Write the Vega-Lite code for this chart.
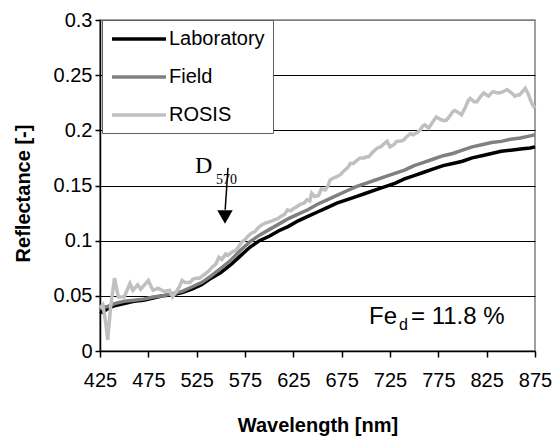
{
  "$schema": "https://vega.github.io/schema/vega-lite/v6.json",
  "width": 435,
  "height": 331,
  "autosize": {"type": "none"},
  "padding": {"left": 100, "top": 20, "right": 21, "bottom": 90},
  "background": "white",
  "config": {
    "font": "Liberation Sans",
    "view": {"stroke": "#808080", "strokeWidth": 1.5}
  },
  "datasets": {
    "spectra": [
      {"series": "Laboratory", "wl": 425, "r": 0.036},
      {"series": "Laboratory", "wl": 428, "r": 0.035},
      {"series": "Laboratory", "wl": 432, "r": 0.038},
      {"series": "Laboratory", "wl": 440, "r": 0.041},
      {"series": "Laboratory", "wl": 450, "r": 0.043},
      {"series": "Laboratory", "wl": 460, "r": 0.045},
      {"series": "Laboratory", "wl": 470, "r": 0.046},
      {"series": "Laboratory", "wl": 480, "r": 0.048},
      {"series": "Laboratory", "wl": 490, "r": 0.050},
      {"series": "Laboratory", "wl": 500, "r": 0.051},
      {"series": "Laboratory", "wl": 510, "r": 0.053},
      {"series": "Laboratory", "wl": 520, "r": 0.056},
      {"series": "Laboratory", "wl": 530, "r": 0.060},
      {"series": "Laboratory", "wl": 540, "r": 0.066},
      {"series": "Laboratory", "wl": 550, "r": 0.071},
      {"series": "Laboratory", "wl": 560, "r": 0.078},
      {"series": "Laboratory", "wl": 570, "r": 0.086},
      {"series": "Laboratory", "wl": 580, "r": 0.094},
      {"series": "Laboratory", "wl": 590, "r": 0.100},
      {"series": "Laboratory", "wl": 600, "r": 0.104},
      {"series": "Laboratory", "wl": 610, "r": 0.109},
      {"series": "Laboratory", "wl": 620, "r": 0.113},
      {"series": "Laboratory", "wl": 630, "r": 0.118},
      {"series": "Laboratory", "wl": 640, "r": 0.122},
      {"series": "Laboratory", "wl": 650, "r": 0.126},
      {"series": "Laboratory", "wl": 660, "r": 0.130},
      {"series": "Laboratory", "wl": 670, "r": 0.134},
      {"series": "Laboratory", "wl": 680, "r": 0.137},
      {"series": "Laboratory", "wl": 690, "r": 0.140},
      {"series": "Laboratory", "wl": 700, "r": 0.143},
      {"series": "Laboratory", "wl": 710, "r": 0.146},
      {"series": "Laboratory", "wl": 720, "r": 0.149},
      {"series": "Laboratory", "wl": 730, "r": 0.152},
      {"series": "Laboratory", "wl": 740, "r": 0.156},
      {"series": "Laboratory", "wl": 750, "r": 0.159},
      {"series": "Laboratory", "wl": 760, "r": 0.162},
      {"series": "Laboratory", "wl": 770, "r": 0.165},
      {"series": "Laboratory", "wl": 780, "r": 0.168},
      {"series": "Laboratory", "wl": 790, "r": 0.170},
      {"series": "Laboratory", "wl": 800, "r": 0.172},
      {"series": "Laboratory", "wl": 810, "r": 0.175},
      {"series": "Laboratory", "wl": 820, "r": 0.177},
      {"series": "Laboratory", "wl": 830, "r": 0.179},
      {"series": "Laboratory", "wl": 840, "r": 0.181},
      {"series": "Laboratory", "wl": 850, "r": 0.182},
      {"series": "Laboratory", "wl": 860, "r": 0.183},
      {"series": "Laboratory", "wl": 870, "r": 0.184},
      {"series": "Laboratory", "wl": 875, "r": 0.185},
      {"series": "Field", "wl": 425, "r": 0.038},
      {"series": "Field", "wl": 428, "r": 0.040},
      {"series": "Field", "wl": 432, "r": 0.040},
      {"series": "Field", "wl": 440, "r": 0.043},
      {"series": "Field", "wl": 450, "r": 0.045},
      {"series": "Field", "wl": 460, "r": 0.046},
      {"series": "Field", "wl": 470, "r": 0.047},
      {"series": "Field", "wl": 480, "r": 0.049},
      {"series": "Field", "wl": 490, "r": 0.050},
      {"series": "Field", "wl": 500, "r": 0.052},
      {"series": "Field", "wl": 510, "r": 0.054},
      {"series": "Field", "wl": 520, "r": 0.058},
      {"series": "Field", "wl": 530, "r": 0.062},
      {"series": "Field", "wl": 540, "r": 0.068},
      {"series": "Field", "wl": 550, "r": 0.075},
      {"series": "Field", "wl": 560, "r": 0.082},
      {"series": "Field", "wl": 570, "r": 0.091},
      {"series": "Field", "wl": 580, "r": 0.099},
      {"series": "Field", "wl": 590, "r": 0.105},
      {"series": "Field", "wl": 600, "r": 0.110},
      {"series": "Field", "wl": 610, "r": 0.115},
      {"series": "Field", "wl": 620, "r": 0.120},
      {"series": "Field", "wl": 630, "r": 0.124},
      {"series": "Field", "wl": 640, "r": 0.128},
      {"series": "Field", "wl": 650, "r": 0.133},
      {"series": "Field", "wl": 660, "r": 0.137},
      {"series": "Field", "wl": 670, "r": 0.141},
      {"series": "Field", "wl": 680, "r": 0.145},
      {"series": "Field", "wl": 690, "r": 0.149},
      {"series": "Field", "wl": 700, "r": 0.152},
      {"series": "Field", "wl": 710, "r": 0.155},
      {"series": "Field", "wl": 720, "r": 0.158},
      {"series": "Field", "wl": 730, "r": 0.161},
      {"series": "Field", "wl": 740, "r": 0.164},
      {"series": "Field", "wl": 750, "r": 0.168},
      {"series": "Field", "wl": 760, "r": 0.171},
      {"series": "Field", "wl": 770, "r": 0.174},
      {"series": "Field", "wl": 780, "r": 0.177},
      {"series": "Field", "wl": 790, "r": 0.179},
      {"series": "Field", "wl": 800, "r": 0.182},
      {"series": "Field", "wl": 810, "r": 0.185},
      {"series": "Field", "wl": 820, "r": 0.187},
      {"series": "Field", "wl": 830, "r": 0.189},
      {"series": "Field", "wl": 840, "r": 0.190},
      {"series": "Field", "wl": 850, "r": 0.192},
      {"series": "Field", "wl": 860, "r": 0.193},
      {"series": "Field", "wl": 870, "r": 0.195},
      {"series": "Field", "wl": 875, "r": 0.196},
      {"series": "ROSIS", "wl": 425, "r": 0.039},
      {"series": "ROSIS", "wl": 428, "r": 0.042},
      {"series": "ROSIS", "wl": 431, "r": 0.025},
      {"series": "ROSIS", "wl": 433, "r": 0.010},
      {"series": "ROSIS", "wl": 436, "r": 0.040},
      {"series": "ROSIS", "wl": 440, "r": 0.066},
      {"series": "ROSIS", "wl": 444, "r": 0.049},
      {"series": "ROSIS", "wl": 450, "r": 0.049},
      {"series": "ROSIS", "wl": 453, "r": 0.055},
      {"series": "ROSIS", "wl": 456, "r": 0.061},
      {"series": "ROSIS", "wl": 459, "r": 0.055},
      {"series": "ROSIS", "wl": 462, "r": 0.058},
      {"series": "ROSIS", "wl": 464, "r": 0.060},
      {"series": "ROSIS", "wl": 467, "r": 0.056},
      {"series": "ROSIS", "wl": 471, "r": 0.060},
      {"series": "ROSIS", "wl": 475, "r": 0.064},
      {"series": "ROSIS", "wl": 478, "r": 0.058},
      {"series": "ROSIS", "wl": 480, "r": 0.055},
      {"series": "ROSIS", "wl": 485, "r": 0.057},
      {"series": "ROSIS", "wl": 489, "r": 0.055},
      {"series": "ROSIS", "wl": 492, "r": 0.054},
      {"series": "ROSIS", "wl": 497, "r": 0.055},
      {"series": "ROSIS", "wl": 500, "r": 0.049},
      {"series": "ROSIS", "wl": 504, "r": 0.054},
      {"series": "ROSIS", "wl": 507, "r": 0.058},
      {"series": "ROSIS", "wl": 510, "r": 0.064},
      {"series": "ROSIS", "wl": 513, "r": 0.062},
      {"series": "ROSIS", "wl": 518, "r": 0.062},
      {"series": "ROSIS", "wl": 521, "r": 0.065},
      {"series": "ROSIS", "wl": 524, "r": 0.066},
      {"series": "ROSIS", "wl": 528, "r": 0.066},
      {"series": "ROSIS", "wl": 531, "r": 0.068},
      {"series": "ROSIS", "wl": 534, "r": 0.070},
      {"series": "ROSIS", "wl": 538, "r": 0.073},
      {"series": "ROSIS", "wl": 541, "r": 0.076},
      {"series": "ROSIS", "wl": 545, "r": 0.079},
      {"series": "ROSIS", "wl": 548, "r": 0.085},
      {"series": "ROSIS", "wl": 551, "r": 0.083},
      {"series": "ROSIS", "wl": 555, "r": 0.088},
      {"series": "ROSIS", "wl": 558, "r": 0.087},
      {"series": "ROSIS", "wl": 562, "r": 0.090},
      {"series": "ROSIS", "wl": 565, "r": 0.091},
      {"series": "ROSIS", "wl": 568, "r": 0.094},
      {"series": "ROSIS", "wl": 572, "r": 0.099},
      {"series": "ROSIS", "wl": 575, "r": 0.101},
      {"series": "ROSIS", "wl": 578, "r": 0.104},
      {"series": "ROSIS", "wl": 582, "r": 0.107},
      {"series": "ROSIS", "wl": 585, "r": 0.108},
      {"series": "ROSIS", "wl": 589, "r": 0.112},
      {"series": "ROSIS", "wl": 592, "r": 0.114},
      {"series": "ROSIS", "wl": 596, "r": 0.116},
      {"series": "ROSIS", "wl": 600, "r": 0.117},
      {"series": "ROSIS", "wl": 603, "r": 0.118},
      {"series": "ROSIS", "wl": 606, "r": 0.119},
      {"series": "ROSIS", "wl": 609, "r": 0.120},
      {"series": "ROSIS", "wl": 612, "r": 0.122},
      {"series": "ROSIS", "wl": 616, "r": 0.124},
      {"series": "ROSIS", "wl": 619, "r": 0.128},
      {"series": "ROSIS", "wl": 622, "r": 0.127},
      {"series": "ROSIS", "wl": 625, "r": 0.129},
      {"series": "ROSIS", "wl": 629, "r": 0.131},
      {"series": "ROSIS", "wl": 632, "r": 0.133},
      {"series": "ROSIS", "wl": 636, "r": 0.134},
      {"series": "ROSIS", "wl": 639, "r": 0.137},
      {"series": "ROSIS", "wl": 642, "r": 0.136},
      {"series": "ROSIS", "wl": 644, "r": 0.143},
      {"series": "ROSIS", "wl": 647, "r": 0.140},
      {"series": "ROSIS", "wl": 651, "r": 0.141},
      {"series": "ROSIS", "wl": 654, "r": 0.147},
      {"series": "ROSIS", "wl": 658, "r": 0.146},
      {"series": "ROSIS", "wl": 661, "r": 0.150},
      {"series": "ROSIS", "wl": 663, "r": 0.155},
      {"series": "ROSIS", "wl": 667, "r": 0.157},
      {"series": "ROSIS", "wl": 670, "r": 0.158},
      {"series": "ROSIS", "wl": 674, "r": 0.160},
      {"series": "ROSIS", "wl": 677, "r": 0.163},
      {"series": "ROSIS", "wl": 681, "r": 0.166},
      {"series": "ROSIS", "wl": 684, "r": 0.170},
      {"series": "ROSIS", "wl": 687, "r": 0.170},
      {"series": "ROSIS", "wl": 691, "r": 0.173},
      {"series": "ROSIS", "wl": 694, "r": 0.175},
      {"series": "ROSIS", "wl": 698, "r": 0.175},
      {"series": "ROSIS", "wl": 701, "r": 0.176},
      {"series": "ROSIS", "wl": 703, "r": 0.176},
      {"series": "ROSIS", "wl": 706, "r": 0.179},
      {"series": "ROSIS", "wl": 708, "r": 0.181},
      {"series": "ROSIS", "wl": 712, "r": 0.184},
      {"series": "ROSIS", "wl": 715, "r": 0.185},
      {"series": "ROSIS", "wl": 718, "r": 0.187},
      {"series": "ROSIS", "wl": 722, "r": 0.190},
      {"series": "ROSIS", "wl": 725, "r": 0.185},
      {"series": "ROSIS", "wl": 729, "r": 0.187},
      {"series": "ROSIS", "wl": 732, "r": 0.190},
      {"series": "ROSIS", "wl": 735, "r": 0.190},
      {"series": "ROSIS", "wl": 739, "r": 0.191},
      {"series": "ROSIS", "wl": 742, "r": 0.194},
      {"series": "ROSIS", "wl": 746, "r": 0.197},
      {"series": "ROSIS", "wl": 749, "r": 0.196},
      {"series": "ROSIS", "wl": 753, "r": 0.198},
      {"series": "ROSIS", "wl": 756, "r": 0.200},
      {"series": "ROSIS", "wl": 759, "r": 0.204},
      {"series": "ROSIS", "wl": 761, "r": 0.205},
      {"series": "ROSIS", "wl": 765, "r": 0.202},
      {"series": "ROSIS", "wl": 768, "r": 0.206},
      {"series": "ROSIS", "wl": 771, "r": 0.210},
      {"series": "ROSIS", "wl": 773, "r": 0.212},
      {"series": "ROSIS", "wl": 777, "r": 0.210},
      {"series": "ROSIS", "wl": 780, "r": 0.209},
      {"series": "ROSIS", "wl": 783, "r": 0.209},
      {"series": "ROSIS", "wl": 787, "r": 0.213},
      {"series": "ROSIS", "wl": 790, "r": 0.217},
      {"series": "ROSIS", "wl": 792, "r": 0.218},
      {"series": "ROSIS", "wl": 796, "r": 0.216},
      {"series": "ROSIS", "wl": 799, "r": 0.214},
      {"series": "ROSIS", "wl": 803, "r": 0.221},
      {"series": "ROSIS", "wl": 806, "r": 0.227},
      {"series": "ROSIS", "wl": 808, "r": 0.229},
      {"series": "ROSIS", "wl": 812, "r": 0.226},
      {"series": "ROSIS", "wl": 815, "r": 0.226},
      {"series": "ROSIS", "wl": 818, "r": 0.230},
      {"series": "ROSIS", "wl": 822, "r": 0.234},
      {"series": "ROSIS", "wl": 825, "r": 0.232},
      {"series": "ROSIS", "wl": 827, "r": 0.231},
      {"series": "ROSIS", "wl": 830, "r": 0.234},
      {"series": "ROSIS", "wl": 832, "r": 0.235},
      {"series": "ROSIS", "wl": 836, "r": 0.234},
      {"series": "ROSIS", "wl": 839, "r": 0.234},
      {"series": "ROSIS", "wl": 842, "r": 0.235},
      {"series": "ROSIS", "wl": 846, "r": 0.237},
      {"series": "ROSIS", "wl": 849, "r": 0.235},
      {"series": "ROSIS", "wl": 852, "r": 0.233},
      {"series": "ROSIS", "wl": 854, "r": 0.231},
      {"series": "ROSIS", "wl": 857, "r": 0.232},
      {"series": "ROSIS", "wl": 859, "r": 0.232},
      {"series": "ROSIS", "wl": 862, "r": 0.235},
      {"series": "ROSIS", "wl": 865, "r": 0.238},
      {"series": "ROSIS", "wl": 868, "r": 0.233},
      {"series": "ROSIS", "wl": 870, "r": 0.228},
      {"series": "ROSIS", "wl": 872, "r": 0.224},
      {"series": "ROSIS", "wl": 875, "r": 0.220}
    ]
  },
  "encoding": {
    "x": {
      "field": "wl", "type": "quantitative",
      "scale": {"domain": [425, 875], "nice": false, "zero": false},
      "axis": {
        "title": "Wavelength [nm]",
        "values": [425, 475, 525, 575, 625, 675, 725, 775, 825, 875],
        "format": "d",
        "grid": false,
        "labelOverlap": false, "labelFlush": false, "labelBound": false,
        "domainColor": "#000000", "domainWidth": 1.5,
        "tickColor": "#000000", "tickSize": 6, "tickWidth": 1.5,
        "labelFontSize": 20, "labelColor": "#000000", "labelPadding": 13,
        "labelFont": "Liberation Sans",
        "titleFont": "Liberation Sans", "titleFontSize": 20, "titleFontWeight": "bold",
        "titleColor": "#000000", "titleY": 80, "titleBaseline": "alphabetic"
      }
    },
    "y": {
      "field": "r", "type": "quantitative",
      "scale": {"domain": [0, 0.3], "nice": false},
      "axis": {
        "title": "Reflectance [-]",
        "values": [0, 0.05, 0.1, 0.15, 0.2, 0.25, 0.3],
        "format": "~g",
        "grid": true,
        "labelOverlap": false, "labelFlush": false, "labelBound": false,
        "gridColor": {"condition": {"test": "datum.value >= 0.29", "value": "#808080"}, "value": "#000000"},
        "gridWidth": 1,
        "domainColor": "#000000", "domainWidth": 1.5,
        "tickColor": "#000000", "tickSize": 5, "tickWidth": 1.5,
        "labelFontSize": 20, "labelColor": "#000000", "labelPadding": 3,
        "labelFont": "Liberation Sans",
        "titleFont": "Liberation Sans", "titleFontSize": 20, "titleFontWeight": "bold",
        "titleColor": "#000000", "titleX": -71, "titleY": 173,
        "titleBaseline": "alphabetic", "titleAngle": -90, "titleAlign": "center"
      }
    },
    "color": {
      "field": "series", "type": "nominal",
      "scale": {"domain": ["Laboratory", "Field", "ROSIS"], "range": ["#000000", "#808080", "#c0c0c0"]},
      "legend": {
        "title": null,
        "orient": "none", "legendX": 2, "legendY": 0,
        "symbolType": "M-1,0H5", "symbolSize": 324, "symbolStrokeWidth": 3.5,
        "labelFontSize": 20, "labelFont": "Liberation Sans", "labelColor": "#000000",
        "labelOffset": 37, "padding": 8, "rowPadding": 17,
        "strokeColor": "#606060", "fillColor": "#ffffff"
      }
    }
  },
  "layer": [
    {
      "data": {"name": "spectra"},
      "transform": [{"filter": "datum.series === 'Laboratory'"}],
      "mark": {"type": "line", "strokeWidth": 3.5}
    },
    {
      "data": {"name": "spectra"},
      "transform": [{"filter": "datum.series === 'Field'"}],
      "mark": {"type": "line", "strokeWidth": 3.5}
    },
    {
      "data": {"name": "spectra"},
      "transform": [{"filter": "datum.series === 'ROSIS'"}],
      "mark": {"type": "line", "strokeWidth": 3.5}
    },
    {
      "data": {"values": [{"wl": 557.4, "r": 0.166, "wl2": 554.5, "r2": 0.128}]},
      "mark": {"type": "rule", "color": "#000000", "strokeWidth": 1.5},
      "encoding": {
        "x2": {"field": "wl2"},
        "y2": {"field": "r2"},
        "color": {"value": "#000000"}
      }
    },
    {
      "data": {"values": [{"wl": 554.3, "r": 0.1215}]},
      "mark": {"type": "point", "shape": "triangle-down", "filled": true, "size": 240, "opacity": 1},
      "encoding": {"color": {"value": "#000000"}}
    },
    {
      "data": {"values": [{"wl": 523.3, "r": 0.161, "t": "D"}]},
      "mark": {"type": "text", "font": "Liberation Serif", "fontSize": 24, "align": "left", "baseline": "alphabetic"},
      "encoding": {"text": {"field": "t"}, "color": {"value": "#000000"}}
    },
    {
      "data": {"values": [{"wl": 545, "r": 0.151, "t": "570"}]},
      "mark": {"type": "text", "font": "Liberation Serif", "fontSize": 14, "align": "left", "baseline": "alphabetic"},
      "encoding": {"text": {"field": "t"}, "color": {"value": "#000000"}}
    },
    {
      "data": {"values": [{"wl": 703.3, "r": 0.0245, "t": "Fe"}, {"wl": 746.7, "r": 0.0245, "t": "= 11.8 %"}]},
      "mark": {"type": "text", "font": "Liberation Sans", "fontSize": 24, "align": "left", "baseline": "alphabetic"},
      "encoding": {"text": {"field": "t"}, "color": {"value": "#000000"}}
    },
    {
      "data": {"values": [{"wl": 734.3, "r": 0.019, "t": "d"}]},
      "mark": {"type": "text", "font": "Liberation Sans", "fontSize": 16, "align": "left", "baseline": "alphabetic"},
      "encoding": {"text": {"field": "t"}, "color": {"value": "#000000"}}
    }
  ]
}
